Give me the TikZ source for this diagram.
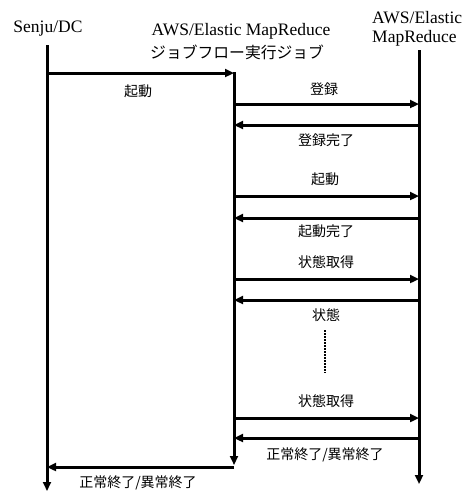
\documentclass[tikz,border=0pt]{standalone}
\usepackage{fontspec}
\setmainfont{Liberation Serif}
\newfontfamily\jp{Noto Sans CJK JP}
\usetikzlibrary{arrows.meta}
\begin{document}
\begin{tikzpicture}[x=1pt,y=-1pt,
  life/.style={line width=3pt,-{Triangle[length=9pt,width=8pt]}},
  msg/.style={line width=3pt,-{Triangle[length=9pt,width=8pt]}},
  hdr/.style={font=\fontsize{17.5}{19}\selectfont, inner sep=0pt},
  lbl/.style={font=\jp\fontsize{14}{16}\selectfont, inner sep=0pt}]
\useasboundingbox (0,0) rectangle (465,491);
% headers
\node[hdr] (senju) at (48,29) {Senju/DC};
\node[hdr] (emr1) at (241,31) {AWS/Elastic MapReduce};
\node[lbl, anchor=west, font=\jp\fontsize{15.8}{17}\selectfont] (emr1b) at (150,52) {ジョブフロー実行ジョブ};
\node[hdr, anchor=west] (emr2a) at (372,18) {AWS/Elastic};
\node[hdr, anchor=west] (emr2b) at (372,38) {MapReduce};
% lifeline ends
\coordinate (LT) at (47,45);  \coordinate (LB) at (47,491);
\coordinate (MT) at (234,72); \coordinate (MB) at (234,465);
\coordinate (RT) at (419,50); \coordinate (RB) at (419,484);
\draw[life] (LT) -- (LB);
\draw[life] (MT) -- (MB);
\draw[life] (RT) -- (RB);
% message end points
\coordinate (a1) at (47,73); \coordinate (b1) at (234,73);
\foreach \n/\y in {2/104,3/125,4/196,5/218,6/279,7/300,8/418,9/438}
  { \coordinate (m\n) at (234,\y); \coordinate (r\n) at (419,\y); }
\coordinate (m10) at (234,467); \coordinate (l10) at (47,467);
% messages
\draw[msg] (a1) -- (b1);
\draw[msg] (m2) -- (r2);
\draw[msg] (r3) -- (m3);
\draw[msg] (m4) -- (r4);
\draw[msg] (r5) -- (m5);
\draw[msg] (m6) -- (r6);
\draw[msg] (r7) -- (m7);
\draw[msg] (m8) -- (r8);
\draw[msg] (r9) -- (m9);
\draw[msg] (m10) -- (l10);
% labels
\node[lbl] (t1) at (138,91) {起動};
\node[lbl] (t2) at (324,89) {登録};
\node[lbl] (t3) at (326,140) {登録完了};
\node[lbl] (t4) at (325,179) {起動};
\node[lbl] (t5) at (326,231) {起動完了};
\node[lbl] (t6) at (326,262) {状態取得};
\node[lbl] (t7) at (326,315) {状態};
\node[lbl] (t8) at (326,401) {状態取得};
\node[lbl] (t9) at (325,455) {正常終了/異常終了};
\node[lbl] (t10) at (138,483) {正常終了/異常終了};
% continuation dots
\coordinate (d1) at (325,330); \coordinate (d2) at (325,373);
\draw[line width=1.5pt, dash pattern=on 1.5pt off 1.5pt] (d1) -- (d2);
\end{tikzpicture}
\end{document}
